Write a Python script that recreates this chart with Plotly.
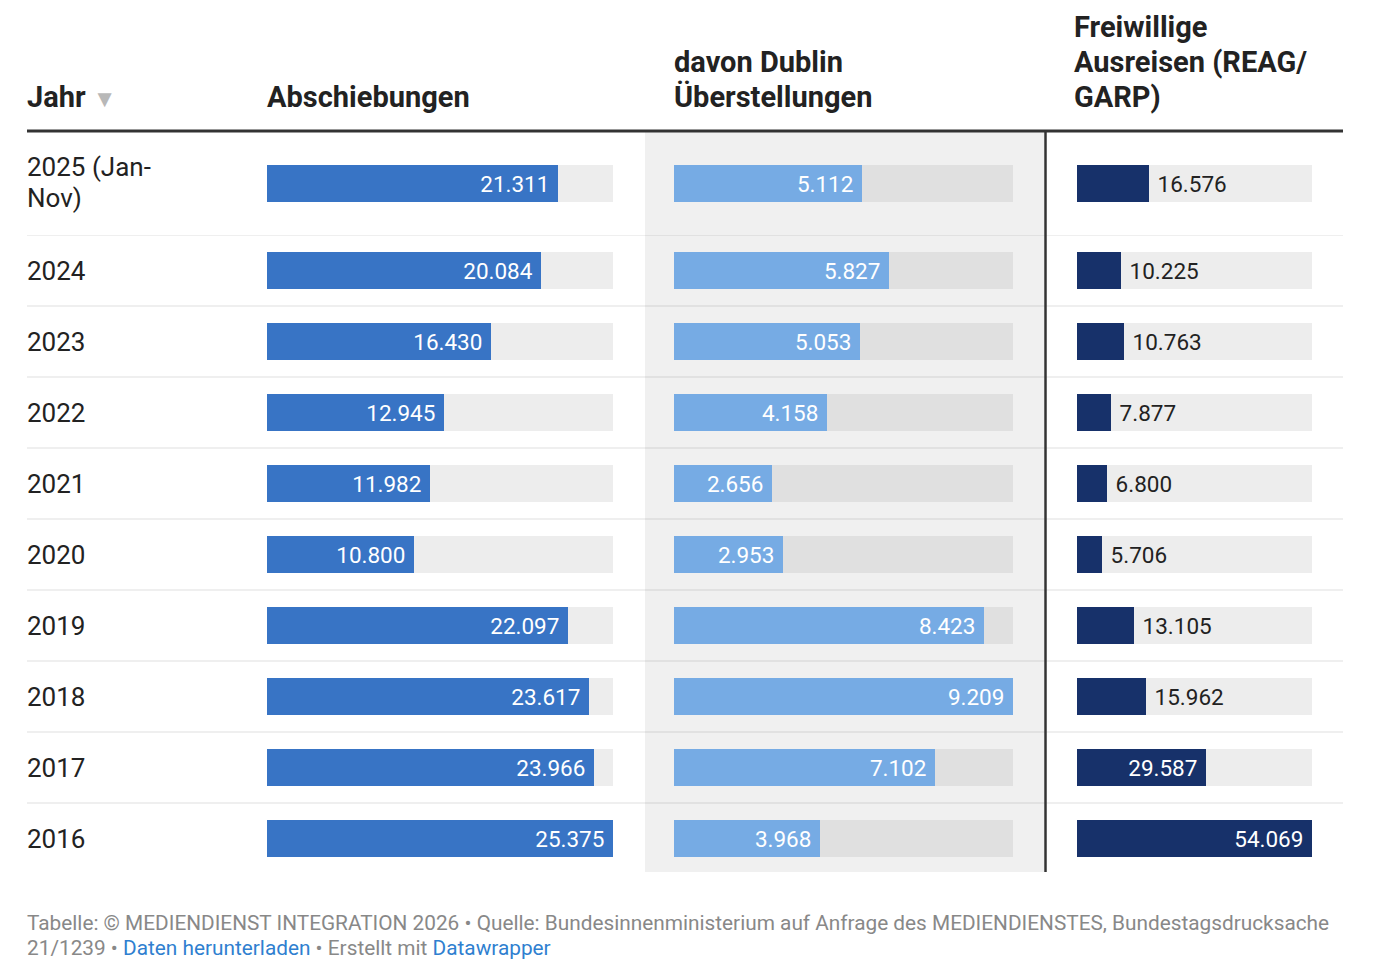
import plotly.graph_objects as go

# ---------------- data ----------------
years = ["2025 (Jan-Nov)", "2024", "2023", "2022", "2021", "2020", "2019", "2018", "2017", "2016"]
year_labels = [["2025 (Jan-", "Nov)"], ["2024"], ["2023"], ["2022"], ["2021"], ["2020"],
               ["2019"], ["2018"], ["2017"], ["2016"]]
abschiebungen = [21311, 20084, 16430, 12945, 11982, 10800, 22097, 23617, 23966, 25375]
dublin = [5112, 5827, 5053, 4158, 2656, 2953, 8423, 9209, 7102, 3968]
freiwillig = [16576, 10225, 10763, 7877, 6800, 5706, 13105, 15962, 29587, 54069]

headers = [["Jahr <span style='color:#b8b8b8;font-size:24px'>▼</span>"],
           ["Abschiebungen"],
           ["davon Dublin", "Überstellungen"],
           ["Freiwillige", "Ausreisen (REAG/", "GARP)"]]

footer_lines = [
    "Tabelle: © MEDIENDIENST INTEGRATION 2026 • Quelle: Bundesinnenministerium auf Anfrage des MEDIENDIENSTES, Bundestagsdrucksache",
    "21/1239 • <span style='color:#2f7fd0'>Daten herunterladen</span> • Erstellt mit <span style='color:#2f7fd0'>Datawrapper</span>",
]

# ---------------- layout helpers ----------------
W, H = 1400, 980
FONT = "Roboto"
NBSP = "\u00a0"


def px(x):
    return x / W


def py(y):
    return 1 - y / H


cols = [
    dict(vals=abschiebungen, color="#3874c5", bg="#ededed", dom=(267, 613), ax="x"),
    dict(vals=dublin, color="#76abe4", bg="#e0e0e0", dom=(674, 1013), ax="x2"),
    dict(vals=freiwillig, color="#17316a", bg="#ededed", dom=(1077, 1312), ax="x3"),
]

groups = [
    dict(cats=years[:1], ax="y", top=131, bottom=235, width=37 / 104),
    dict(cats=years[1:], ax="y2", top=235, bottom=874, width=37 / 71),
]

fig = go.Figure()

start = 0
for g in groups:
    n = len(g["cats"])
    sl = slice(start, start + n)
    for c in cols:
        vals = c["vals"][sl]
        vmax = max(c["vals"])
        span = c["dom"][1] - c["dom"][0]
        # background track
        fig.add_trace(go.Bar(
            y=g["cats"], x=[vmax] * n, orientation="h",
            xaxis=c["ax"], yaxis=g["ax"], width=g["width"],
            marker=dict(color=c["bg"], line=dict(width=0)),
            hoverinfo="skip", showlegend=False,
        ))
        inside = [v / vmax * span > 85 for v in vals]
        fig.add_trace(go.Bar(
            y=g["cats"], x=vals, orientation="h",
            xaxis=c["ax"], yaxis=g["ax"], width=g["width"],
            marker=dict(color=c["color"], line=dict(width=0)),
            texttemplate=["%{x:,}" + NBSP if i else NBSP + "%{x:,}" for i in inside],
            textposition=["inside" if i else "outside" for i in inside],
            insidetextanchor="end",
            textfont=dict(family=FONT, size=22.5,
                          color=["#ffffff" if i else "#222222" for i in inside]),
            constraintext="none", cliponaxis=False,
            showlegend=False,
        ))
    start += n

# axes
layout_axes = {}
for i, c in enumerate(cols):
    key = "xaxis" if i == 0 else f"xaxis{i + 1}"
    layout_axes[key] = dict(domain=[px(c["dom"][0]), px(c["dom"][1])],
                            range=[0, max(c["vals"])], visible=False,
                            fixedrange=True, anchor="y")
for i, g in enumerate(groups):
    key = "yaxis" if i == 0 else f"yaxis{i + 1}"
    layout_axes[key] = dict(domain=[py(g["bottom"]), py(g["top"])],
                            type="category", categoryorder="array",
                            categoryarray=g["cats"],
                            range=[len(g["cats"]) - 0.5, -0.5],
                            visible=False, fixedrange=True, anchor="x")

SEP = dict(color="rgba(0,0,0,0.085)", width=1.5)
shapes = []
# highlighted column background
shapes.append(dict(type="rect", xref="paper", yref="paper",
                   x0=px(645), x1=px(1044), y0=py(872), y1=py(131),
                   fillcolor="#f0f0f0", line=dict(width=0), layer="below"))
# row separators
for k in range(len(years) - 1):
    shapes.append(dict(type="line", xref="paper", yref="y2",
                       x0=px(27), x1=px(1343), y0=k - 0.5, y1=k - 0.5,
                       line=SEP, layer="below"))
# vertical divider
shapes.append(dict(type="line", xref="paper", yref="paper",
                   x0=px(1045.5), x1=px(1045.5), y0=py(872), y1=py(131),
                   line=dict(color="#333333", width=2.5)))
# header rule
shapes.append(dict(type="line", xref="paper", yref="paper",
                   x0=px(27), x1=px(1343), y0=py(131), y1=py(131),
                   line=dict(color="#333333", width=3)))

annotations = []
# year labels
for i, lines in enumerate(year_labels):
    yref = "y" if i == 0 else "y2"
    ypos = 0 if i == 0 else i - 1
    nl = len(lines)
    for j, line in enumerate(lines):
        annotations.append(dict(text=line, xref="paper", yref=yref, x=px(25), y=ypos,
                                yshift=(nl - 1) * 15.5 - j * 31,
                                xanchor="left", yanchor="middle", align="left",
                                showarrow=False,
                                font=dict(family=FONT, size=26, color="#222222")))
# headers
header_x = [25, 265, 672, 1072]
for hx, lines in zip(header_x, headers):
    nl = len(lines)
    for j, line in enumerate(lines):
        annotations.append(dict(text=f"<b>{line}</b>", xref="paper", yref="paper",
                                x=px(hx), y=py(97 - (nl - 1 - j) * 35),
                                xanchor="left", yanchor="middle",
                                align="left", showarrow=False,
                                font=dict(family=FONT, size=29, color="#222222")))
# footer
for j, line in enumerate(footer_lines):
    annotations.append(dict(text=line, xref="paper", yref="paper",
                            x=px(25), y=py(923 + j * 25), xanchor="left", yanchor="middle",
                            align="left", showarrow=False,
                            font=dict(family=FONT, size=20.8, color="#888888")))

fig.update_layout(
    width=W, height=H,
    margin=dict(l=0, r=0, t=0, b=0),
    paper_bgcolor="#ffffff", plot_bgcolor="rgba(0,0,0,0)",
    barmode="overlay", bargap=0,
    separators=",.",
    font=dict(family=FONT),
    shapes=shapes, annotations=annotations,
    showlegend=False,
    **layout_axes,
)

fig.write_html("out.html", post_script="document.body.style.margin='0';document.body.style.overflow='hidden';",
               config={"displayModeBar": False})
